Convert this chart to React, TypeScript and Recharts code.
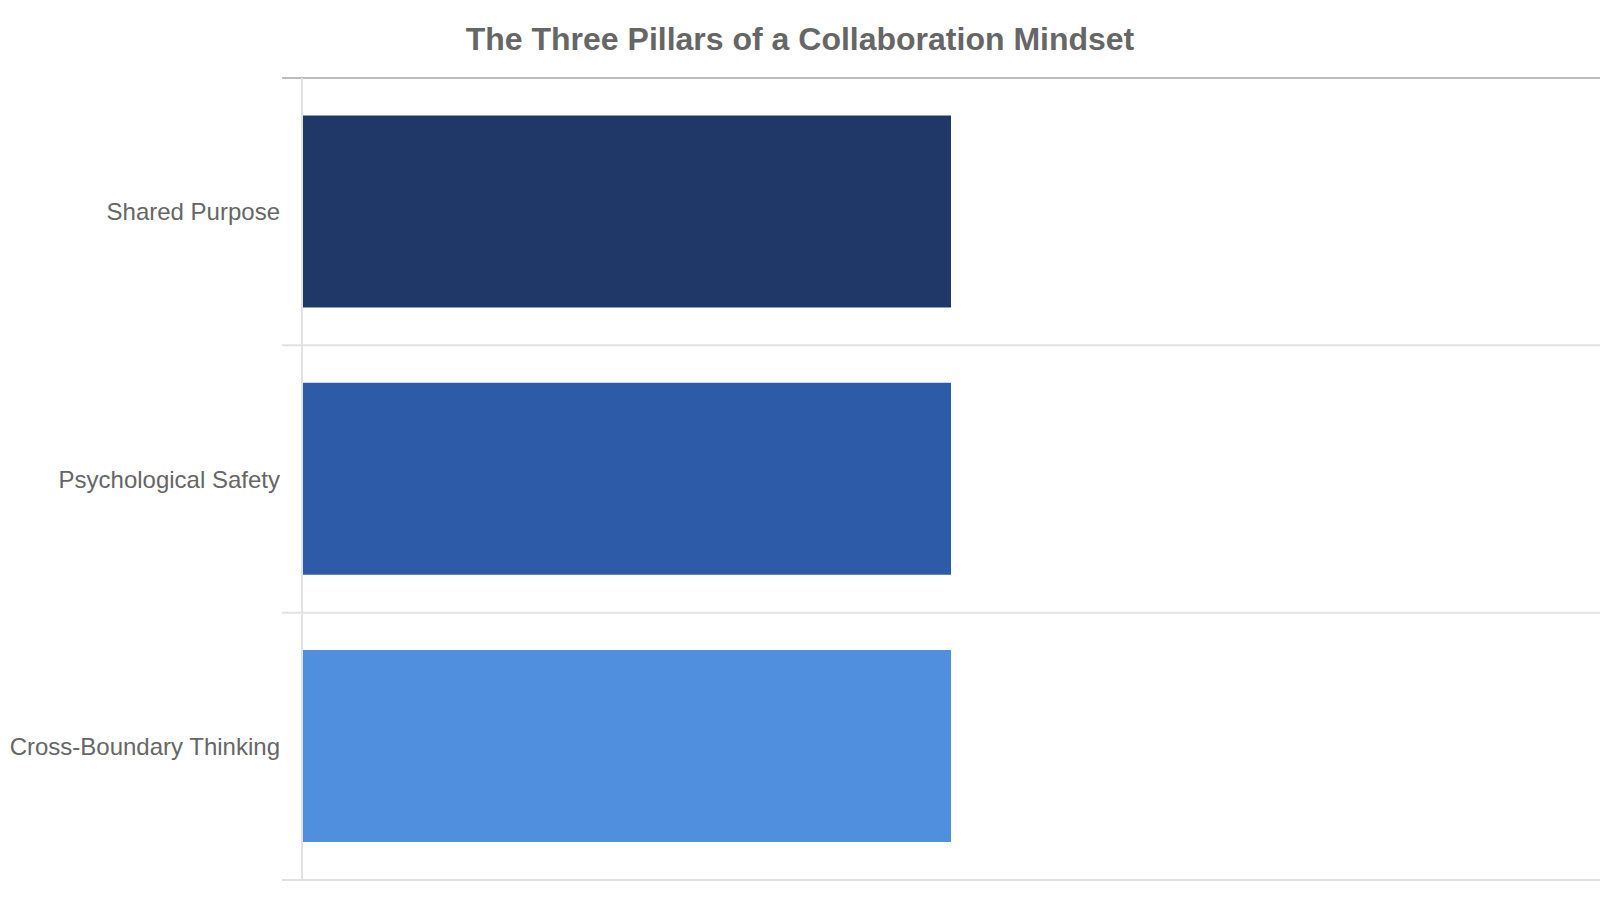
import { Bar, BarChart, CartesianGrid, Cell, XAxis, YAxis } from "recharts";

const categories = ["Shared Purpose", "Psychological Safety", "Cross-Boundary Thinking"];
const values = [1, 1, 1];
const barColors = ["#1F3868", "#2E5BA8", "#508EDE"];
const valueDomain: [number, number] = [0, 2];

const data = categories.map((name, i) => ({ name, value: values[i] }));

const FONT = '"Liberation Sans", Arial, Helvetica, sans-serif';

let plotTop = 0;

// grid lines sit on the edges between category bands, not on their centres
function bandEdges({ offset }: any): number[] {
  const n = categories.length;
  plotTop = offset.top;
  return Array.from({ length: n + 1 }, (_, i) => offset.top + (offset.height * i) / n);
}

// each grid line also pokes 20px out to the left of the plot, like a tick
function GridLine(props: any) {
  const { x1, x2, y1, y2 } = props;
  const first = Math.abs(y1 - plotTop) < 1;
  return (
    <line x1={x1 - 20} x2={x2} y1={y1} y2={y2} stroke={first ? "#bdbdbd" : "#e2e2e2"} strokeWidth={2} />
  );
}

export default function App() {
  return (
    <div style={{ position: "absolute", left: 0, top: 0, width: 1600, height: 900, background: "#fff", fontFamily: FONT }}>
      <div
        style={{
          position: "absolute",
          top: 23,
          left: 0,
          width: 1600,
          textAlign: "center",
          fontSize: 32,
          lineHeight: "32px",
          fontWeight: 700,
          color: "#666666",
        }}
      >
        The Three Pillars of a Collaboration Mindset
      </div>
      <BarChart
        width={1600}
        height={900}
        data={data}
        layout="vertical"
        margin={{ top: 78, right: 0, bottom: 20, left: 0 }}
        barCategoryGap="14%"
      >
        <CartesianGrid
          vertical={false}
          horizontal={(p: any) => <GridLine {...p} />}
          horizontalCoordinatesGenerator={bandEdges}
        />
        <XAxis type="number" domain={valueDomain} hide />
        <YAxis
          type="category"
          dataKey="name"
          width={302}
          tickSize={0}
          tickMargin={22}
          tickLine={false}
          axisLine={{ stroke: "#e2e2e2", strokeWidth: 2 }}
          tick={{ fill: "#666666", fontSize: 24, fontFamily: FONT }}
        />
        <Bar dataKey="value" isAnimationActive={false}>
          {data.map((d, i) => (
            <Cell key={d.name} fill={barColors[i]} />
          ))}
        </Bar>
      </BarChart>
    </div>
  );
}
